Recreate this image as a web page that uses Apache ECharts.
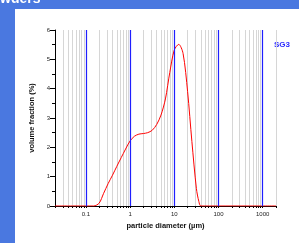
<!DOCTYPE html>
<html>
<head>
<meta charset="utf-8">
<script src="https://cdn.jsdelivr.net/npm/echarts@6/dist/echarts.min.js"></script>
<style>
  html, body { margin: 0; padding: 0; background: #fff; }
  #chart { width: 299px; height: 243px; }
</style>
</head>
<body>
<div id="chart"></div>
<script>
// particle size distribution (diameter in µm, volume fraction in %)
var diameters = [0.02, 0.05, 0.1, 0.15, 0.2, 0.25, 0.32, 0.4, 0.5, 0.63, 0.79, 1, 1.26, 1.58, 2, 2.5, 3.16, 4, 5, 6.3, 7.9, 10, 12.6, 15.8, 20, 25, 31.6, 36, 40, 100, 500, 2000];
var fractions = [0, 0, 0, 0, 0.1, 0.42, 0.77, 1.05, 1.35, 1.65, 1.94, 2.22, 2.38, 2.45, 2.47, 2.5, 2.58, 2.78, 3.1, 3.65, 4.55, 5.32, 5.51, 5.2, 3.9, 2.2, 0.6, 0.15, 0, 0, 0, 0];
var decades = [0.1, 1, 10, 100, 1000];
var gridValues = [0.02, 0.03, 0.04, 0.05, 0.06, 0.07, 0.08, 0.09,
  0.1, 0.2, 0.3, 0.4, 0.5, 0.6, 0.7, 0.8, 0.9,
  1, 2, 3, 4, 5, 6, 7, 8, 9,
  10, 20, 30, 40, 50, 60, 70, 80, 90,
  100, 200, 300, 400, 500, 600, 700, 800, 900,
  1000, 2000];
var sampleName = 'SG3';

var lg = function (v) { return Math.log10(v); };

var chart = echarts.init(document.getElementById('chart'));
var option = {
  animation: false,
  backgroundColor: '#ffffff',
  grid: { left: 55, right: 23, top: 30, bottom: 37, containLabel: false },
  graphic: [
    { type: 'rect', shape: { x: 0, y: 0, width: 299, height: 9 }, style: { fill: '#4a78e0' } },
    { type: 'rect', shape: { x: 0, y: 0, width: 15, height: 243 }, style: { fill: '#4a78e0' } },
    { type: 'text', left: 0, top: -8, style: { text: 'wders', fill: '#ffffff', font: 'bold 14px "Liberation Sans", Arial' } },
    { type: 'text', left: 274, top: 41, style: { text: sampleName, fill: '#2a2aff', font: 'bold 8px "Liberation Sans", Arial' } }
  ],
  xAxis: {
    type: 'value',
    min: lg(0.02),
    max: lg(2000),
    name: 'particle diameter (µm)',
    nameLocation: 'middle',
    nameGap: 14,
    nameTextStyle: { fontFamily: 'Liberation Sans', fontWeight: 'bold', fontSize: 7.5, color: '#111' },
    axisLine: { onZero: false, lineStyle: { color: '#000', width: 1 } },
    axisTick: { show: true, length: 2, inside: false, customValues: gridValues.map(lg), lineStyle: { color: '#000' } },
    axisLabel: {
      customValues: decades.map(lg),
      fontFamily: 'Liberation Sans', fontSize: 6, color: '#222', margin: 5,
      formatter: function (v) { var d = Math.pow(10, Math.round(v)); return d < 1 ? d.toFixed(1) : String(d); }
    },
    splitLine: { show: true, lineStyle: { color: '#d6d6d6', width: 1 } }
  },
  yAxis: {
    type: 'value',
    min: 0,
    max: 6,
    interval: 1,
    name: 'volume fraction (%)',
    nameLocation: 'middle',
    nameGap: 10,
    nameTextStyle: { fontFamily: 'Liberation Sans', fontWeight: 'bold', fontSize: 7.5, color: '#111' },
    axisLine: { show: true, onZero: false, lineStyle: { color: '#000', width: 1 } },
    axisTick: { show: true, length: 5, lineStyle: { color: '#000' } },
    minorTick: { show: true, splitNumber: 2, length: 3, lineStyle: { color: '#000' } },
    axisLabel: { fontFamily: 'Liberation Sans', fontSize: 6, color: '#222', margin: 5 },
    splitLine: { show: false }
  },
  series: [{
    type: 'line',
    data: diameters.map(function (d, i) { return [lg(d), fractions[i]]; }),
    showSymbol: false,
    smooth: 0.3,
    lineStyle: { color: '#ff0000', width: 1 },
    markLine: {
      silent: true,
      symbol: 'none',
      label: { show: false },
      lineStyle: { color: '#1f1fff', width: 1.2, type: 'solid' },
      data: decades.map(function (d) { return { xAxis: lg(d) }; })
    },
    z: 3
  }]
};
chart.setOption(option);
</script>
</body>
</html>
